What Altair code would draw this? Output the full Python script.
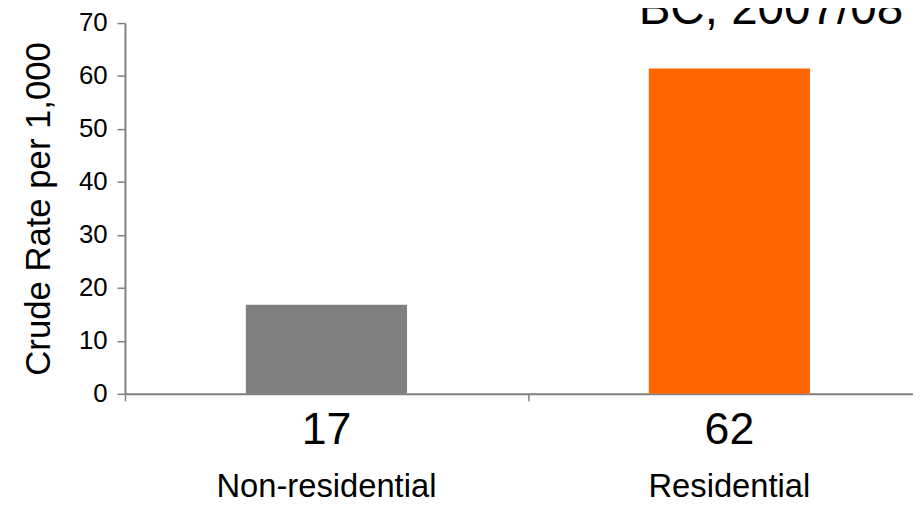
import altair as alt
import pandas as pd

categories = ["Non-residential", "Residential"]
values = [16.8, 61.4]
value_labels = ["17", "62"]
colors = ["#808080", "#FF6600"]
y_ticks = [0, 10, 20, 30, 40, 50, 60, 70]

FONT = "Liberation Sans"

df = pd.DataFrame({"category": categories, "value": values, "label": value_labels})

x_enc = alt.X("category:N", sort=categories,
              scale=alt.Scale(range=[0, 813], paddingInner=0, paddingOuter=0),
              axis=alt.Axis(labels=False, title=None, tickBand="extent", ticks=True,
                            tickSize=7, tickColor="#808080", tickWidth=1.5,
                            domainColor="#808080", domainWidth=2, grid=False))

bars = alt.Chart(df).mark_bar(width=alt.RelativeBandSize(0.4)).encode(
    x=x_enc,
    y=alt.Y("value:Q", scale=alt.Scale(domain=[0, 70], nice=False),
            axis=alt.Axis(values=y_ticks, title="Crude Rate per 1,000",
                          titleFontSize=35, titleFont=FONT, titleFontWeight="normal",
                          titleColor="black", titlePadding=22,
                          labelFontSize=26, labelFont=FONT, labelColor="black",
                          labelPadding=10, tickSize=8, tickColor="#808080",
                          tickWidth=1.5, domainColor="#808080", domainWidth=2,
                          grid=False)),
    color=alt.Color("category:N", scale=alt.Scale(domain=categories, range=colors),
                    legend=None),
)

val_text = alt.Chart(df).mark_text(fontSize=45, font=FONT, baseline="alphabetic",
                                   dy=51, color="black").encode(
    x=alt.X("category:N", sort=categories),
    y=alt.datum(0),
    text="label:N",
)

cat_text = alt.Chart(df).mark_text(fontSize=33, font=FONT, baseline="alphabetic",
                                   dy=104, color="black").encode(
    x=alt.X("category:N", sort=categories),
    y=alt.datum(0),
    text="category:N",
)

chart = alt.layer(bars, val_text, cat_text).properties(
    width=795,
    height=374,
    title=alt.TitleParams(text="BC, 2007/08", anchor="end", frame="group",
                          fontSize=48, font=FONT, fontWeight="normal",
                          color="black", baseline="alphabetic", offset=-62,
                          dx=-10),
    autosize=alt.AutoSizeParams(type="none"),
    padding={"left": 118, "top": 13, "right": 0, "bottom": 112},
).configure(background="white").configure_view(stroke=None, strokeWidth=0)

chart.save("out.html", embed_options={"renderer": "svg", "actions": False})
